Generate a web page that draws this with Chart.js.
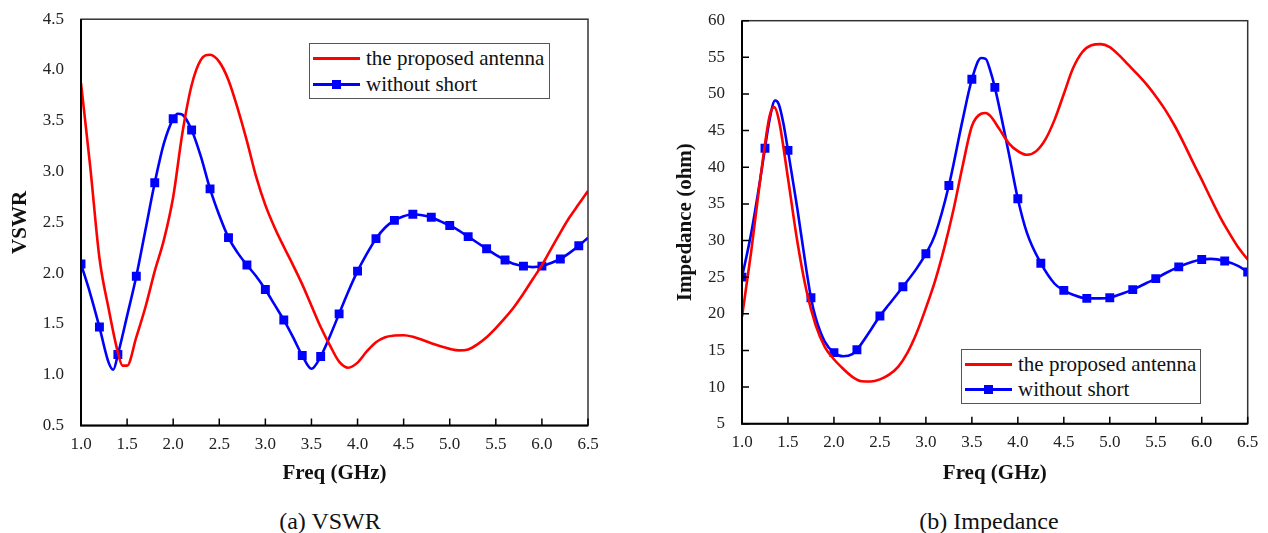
<!DOCTYPE html>
<html>
<head>
<meta charset="utf-8">
<script src="https://cdn.jsdelivr.net/npm/chart.js@4.4.0/dist/chart.umd.min.js"></script>
<style>
  body { margin: 0; width: 1268px; height: 533px; position: relative; overflow: hidden; background: #fff; font-family: "Liberation Serif", "Times New Roman", serif; color: #111; }
  canvas { position: absolute; top: 0; }
  .legend { position: absolute; background: #fff; border: 1px solid #555; box-sizing: border-box; font-size: 21px; }
  .legend .row { position: absolute; left: 0; height: 26px; width: 100%; }
  .legend .line { position: absolute; left: 3px; top: 11.5px; width: 47px; height: 3px; }
  .legend .mark { position: absolute; left: 22px; top: 8.5px; width: 9px; height: 9px; background: #0000ff; }
  .legend .txt { position: absolute; left: 56px; top: 0; line-height: 26px; white-space: nowrap; }
  .caption { position: absolute; top: 507px; width: 300px; text-align: center; font-size: 24px; line-height: 28px; }
</style>
</head>
<body>
<canvas id="vswr" width="620" height="500" style="left:0px"></canvas>
<canvas id="imp" width="608" height="500" style="left:660px"></canvas>

<div class="legend" style="left:309px; top:43px; width:241px; height:56px;">
  <div class="row" style="top:1px"><div class="line" style="background:#ff0000"></div><span class="txt">the proposed antenna</span></div>
  <div class="row" style="top:27px"><div class="line" style="background:#0000ff"></div><div class="mark"></div><span class="txt">without short</span></div>
</div>
<div class="legend" style="left:961px; top:349px; width:240px; height:55px;">
  <div class="row" style="top:1px"><div class="line" style="background:#ff0000"></div><span class="txt">the proposed antenna</span></div>
  <div class="row" style="top:26px"><div class="line" style="background:#0000ff"></div><div class="mark"></div><span class="txt">without short</span></div>
</div>

<div class="caption" style="left:180px">(a) VSWR</div>
<div class="caption" style="left:839px">(b) Impedance</div>

<script>
// VSWR - proposed antenna
let freqRedV = [1.0,1.1,1.2,1.3,1.4,1.45,1.5,1.6,1.7,1.8,1.9,2.0,2.1,2.2,2.3,2.4,2.5,2.6,2.7,2.8,2.9,3.0,3.1,3.2,3.3,3.4,3.5,3.6,3.7,3.8,3.9,4.0,4.1,4.2,4.3,4.4,4.5,4.6,4.7,4.8,4.9,5.0,5.1,5.2,5.3,5.4,5.5,5.6,5.7,5.8,5.9,6.0,6.1,6.2,6.3,6.4,6.5];
let vswrRed = [3.87,3.05,2.15,1.65,1.22,1.09,1.09,1.37,1.67,2.02,2.33,2.75,3.38,3.85,4.10,4.15,4.08,3.90,3.62,3.30,2.95,2.67,2.45,2.26,2.08,1.89,1.68,1.47,1.29,1.13,1.07,1.12,1.23,1.32,1.37,1.386,1.39,1.375,1.345,1.31,1.28,1.255,1.24,1.25,1.30,1.37,1.46,1.56,1.67,1.80,1.94,2.08,2.24,2.40,2.55,2.68,2.81];

// VSWR - without short
let freqBlueV = [1.0,1.1,1.2,1.3,1.35,1.4,1.5,1.6,1.7,1.8,1.9,2.0,2.05,2.1,2.2,2.3,2.4,2.5,2.6,2.7,2.8,2.9,3.0,3.1,3.2,3.3,3.4,3.5,3.6,3.7,3.8,3.9,4.0,4.1,4.2,4.3,4.4,4.5,4.6,4.7,4.8,4.9,5.0,5.1,5.2,5.3,5.4,5.5,5.6,5.7,5.8,5.9,6.0,6.1,6.2,6.3,6.4,6.5];
let vswrBlue = [2.09,1.80,1.47,1.12,1.05,1.20,1.58,1.97,2.43,2.89,3.28,3.52,3.57,3.56,3.41,3.15,2.83,2.57,2.35,2.20,2.08,1.97,1.84,1.69,1.54,1.37,1.19,1.06,1.18,1.38,1.60,1.82,2.02,2.19,2.34,2.45,2.52,2.56,2.58,2.57,2.55,2.51,2.47,2.42,2.36,2.30,2.24,2.18,2.13,2.09,2.07,2.06,2.07,2.10,2.14,2.20,2.27,2.35];

// Impedance - proposed antenna
let freqRedZ = [1.0,1.1,1.2,1.3,1.35,1.4,1.5,1.6,1.7,1.8,1.9,2.0,2.1,2.2,2.3,2.4,2.5,2.6,2.7,2.8,2.9,3.0,3.1,3.2,3.3,3.4,3.5,3.6,3.65,3.7,3.8,3.9,4.0,4.1,4.2,4.3,4.4,4.5,4.6,4.7,4.8,4.9,5.0,5.1,5.2,5.3,5.4,5.5,5.6,5.7,5.8,5.9,6.0,6.1,6.2,6.3,6.4,6.5];
let impRed = [19.6,28.5,38.5,47.0,48.2,46.5,38.5,30.0,23.2,18.5,15.5,13.8,12.5,11.4,10.8,10.75,11.05,11.7,12.8,14.7,17.4,20.8,24.5,29.0,34.2,40.2,45.6,47.3,47.4,47.0,45.2,43.3,42.2,41.7,42.2,43.8,46.5,50.0,53.5,55.7,56.65,56.8,56.4,55.3,54.0,52.7,51.3,49.7,47.9,45.8,43.4,40.8,38.3,35.7,33.2,31.0,29.0,27.4];

// Impedance - without short
let freqBlueZ = [1.0,1.1,1.2,1.25,1.3,1.36,1.4,1.45,1.5,1.6,1.7,1.75,1.8,1.9,2.0,2.1,2.2,2.25,2.4,2.5,2.6,2.75,2.9,3.0,3.1,3.25,3.4,3.5,3.6,3.65,3.7,3.75,3.9,4.0,4.1,4.25,4.4,4.5,4.6,4.75,4.9,5.0,5.1,5.25,5.4,5.5,5.6,5.75,5.9,6.0,6.1,6.25,6.4,6.5];
let impBlue = [25.0,31.0,38.5,42.6,46.5,49.1,48.6,46.0,42.3,34.5,26.0,22.2,19.5,16.2,14.7,14.2,14.5,15.1,17.8,19.7,21.3,23.7,26.2,28.2,30.8,37.5,46.5,52.0,54.9,54.8,53.2,50.9,42.0,35.7,31.0,26.9,24.1,23.2,22.6,22.1,22.1,22.2,22.6,23.3,24.2,24.8,25.5,26.4,27.1,27.4,27.5,27.2,26.5,25.7];

let freqTicks = [1.0,1.5,2.0,2.5,3.0,3.5,4.0,4.5,5.0,5.5,6.0,6.5];

const RED = '#ff0000';
const BLUE = '#0000ff';
const FONT = '"Liberation Serif", "Times New Roman", serif';

function pts(xs, ys) {
    return xs.map((x, i) => ({x: x, y: ys[i]}));
}

// square marker only every `step` GHz starting at 1.0
function markerEvery(step) {
    return ctx => {
        if (!ctx.raw) return 0;
        let r = (ctx.raw.x - 1) / step;
        return Math.abs(r - Math.round(r)) < 1e-6 ? 6.3 : 0;
    };
}

// plot frame and inward tick marks
const framePlugin = {
    id: 'frame',
    afterDatasetsDraw(chart, args, opts) {
        const {ctx, chartArea: a, scales} = chart;
        ctx.save();
        ctx.strokeStyle = '#333';
        ctx.lineWidth = 1.5;
        ctx.strokeRect(a.left, a.top, a.right - a.left, a.bottom - a.top);
        ctx.strokeStyle = '#000';
        ctx.lineWidth = 2;
        ctx.beginPath();
        ctx.moveTo(a.left, a.top);
        ctx.lineTo(a.left, a.bottom);
        ctx.lineTo(a.right, a.bottom);
        ctx.stroke();
        ctx.lineWidth = 1.5;
        ctx.beginPath();
        scales.x.ticks.forEach(t => {
            let px = scales.x.getPixelForValue(t.value);
            ctx.moveTo(px, a.bottom);
            ctx.lineTo(px, a.bottom - 7);
        });
        if (opts.yTicks) {
            scales.y.ticks.forEach(t => {
                let py = scales.y.getPixelForValue(t.value);
                ctx.moveTo(a.left, py);
                ctx.lineTo(a.left + 7, py);
            });
        }
        ctx.stroke();
        ctx.restore();
    }
};

function makeChart(id, cfg) {
    return new Chart(document.getElementById(id).getContext('2d'), {
        type: 'line',
        data: {
            datasets: [{
                label: 'the proposed antenna',
                data: pts(cfg.redX, cfg.redY),
                borderColor: RED,
                borderWidth: 2.6,
                pointRadius: 0,
                cubicInterpolationMode: 'monotone'
            }, {
                label: 'without short',
                data: pts(cfg.blueX, cfg.blueY),
                borderColor: BLUE,
                backgroundColor: BLUE,
                borderWidth: 2.6,
                pointStyle: 'rect',
                pointRadius: markerEvery(cfg.step),
                pointBorderWidth: 0,
                cubicInterpolationMode: 'monotone'
            }]
        },
        options: {
            responsive: false,
            animation: false,
            events: [],
            layout: { padding: cfg.padding },
            plugins: {
                legend: { display: false },
                tooltip: { enabled: false },
                frame: { yTicks: cfg.yTicks }
            },
            scales: {
                x: {
                    type: 'linear',
                    min: 1, max: 6.5,
                    afterBuildTicks: s => { s.ticks = freqTicks.map(v => ({value: v})); },
                    afterFit: s => { s.height = cfg.xH; },
                    grid: { display: false },
                    border: { display: false },
                    ticks: {
                        autoSkip: false, maxRotation: 0, padding: 1,
                        color: '#222', font: { family: FONT, size: 17 },
                        callback: v => v.toFixed(1)
                    },
                    title: {
                        display: true, text: 'Freq (GHz)', color: '#111',
                        padding: 0, font: { family: FONT, size: 21, weight: 'bold' }
                    }
                },
                y: {
                    min: cfg.yMin, max: cfg.yMax,
                    afterFit: s => { s.width = cfg.yW; },
                    grid: { display: false },
                    border: { display: false },
                    ticks: {
                        stepSize: cfg.yStep, padding: 9,
                        color: '#222', font: { family: FONT, size: 17 },
                        callback: cfg.yFmt
                    },
                    title: {
                        display: true, text: cfg.yTitle, color: '#111',
                        padding: 0, font: { family: FONT, size: 21, weight: 'bold' }
                    }
                }
            }
        },
        plugins: [framePlugin]
    });
}

let vswrChart = makeChart('vswr', {
    redX: freqRedV, redY: vswrRed, blueX: freqBlueV, blueY: vswrBlue,
    step: 0.2, yMin: 0.5, yMax: 4.5, yStep: 0.5, yFmt: v => v.toFixed(1),
    yTitle: 'VSWR', yTicks: false,
    padding: { left: 8.4, right: 32, top: 18, bottom: 13.4 }, yW: 72.6, xH: 61
});

let impChart = makeChart('imp', {
    redX: freqRedZ, redY: impRed, blueX: freqBlueZ, blueY: impBlue,
    step: 0.25, yMin: 5, yMax: 60, yStep: 5, yFmt: v => v,
    yTitle: 'Impedance (ohm)', yTicks: true,
    padding: { left: 13.4, right: 20.3, top: 20.7, bottom: 13.4 }, yW: 68.6, xH: 62.9
});
</script>
</body>
</html>
